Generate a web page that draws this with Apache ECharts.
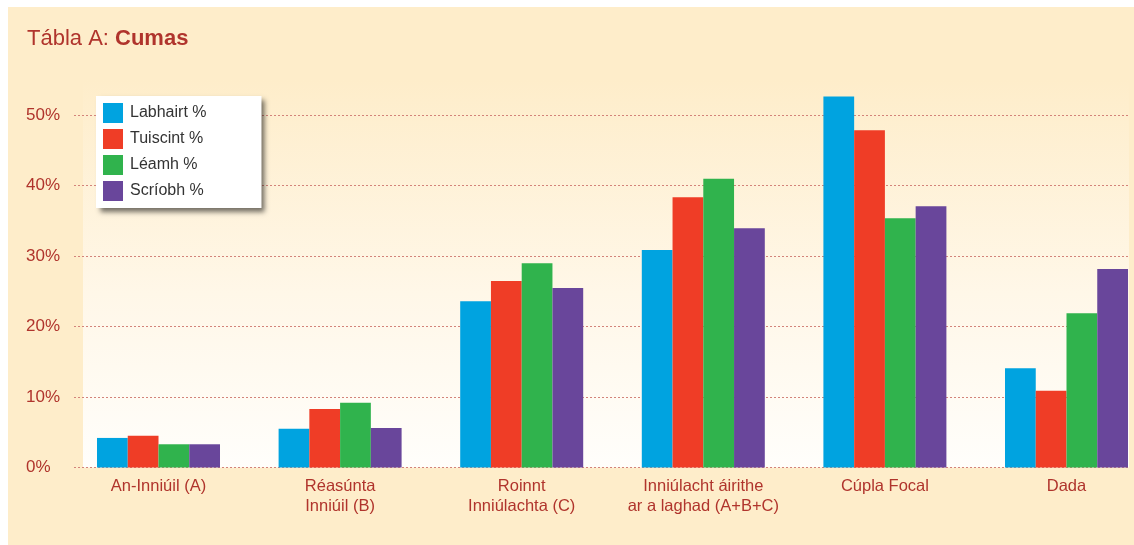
<!DOCTYPE html>
<html>
<head>
<meta charset="utf-8">
<style>
html,body{margin:0;padding:0;background:#ffffff;overflow:hidden;}
#chart{width:1160px;height:545px;}
</style>
<script src="https://cdn.jsdelivr.net/npm/echarts@6/dist/echarts.min.js"></script>
</head>
<body>
<div id="chart"></div>
<script>
const categories = ['An-Inniúil (A)', 'Réasúnta\nInniúil (B)', 'Roinnt\nInniúlachta (C)', 'Inniúlacht áirithe\nar a laghad (A+B+C)', 'Cúpla Focal', 'Dada'];
const seriesNames = ['Labhairt %', 'Tuiscint %', 'Léamh %', 'Scríobh %'];
const labhairt = [4.2, 5.5, 23.6, 30.9, 52.7, 14.1];
const tuiscint = [4.5, 8.3, 26.5, 38.4, 47.9, 10.9];
const leamh = [3.3, 9.2, 29.0, 41.0, 35.4, 21.9];
const scriobh = [3.3, 5.6, 25.5, 34.0, 37.1, 28.2];
const yMax = 50, yStep = 10;

const colors = ['#00a3e0', '#ef3d26', '#30b34d', '#69469b'];
const red = '#b0342c';
const cream = '#feedca';
const sans = "'Liberation Sans',Arial,sans-serif";
const values = [labhairt, tuiscint, leamh, scriobh];

const chart = echarts.init(document.getElementById('chart'), null, {renderer: 'canvas'});
chart.setOption({
  animation: false,
  backgroundColor: '#ffffff',
  graphic: [
    {type: 'rect', z: -20, shape: {x: 8, y: 7, width: 1152, height: 538}, style: {fill: cream}, silent: true},
    {type: 'rect', z: -19, shape: {x: 83, y: 80, width: 1046, height: 387.5},
      style: {fill: new echarts.graphic.LinearGradient(0, 0, 0, 1, [
        {offset: 0, color: cream}, {offset: 0.55, color: '#fff7e8'}, {offset: 1, color: '#fffefb'}])}, silent: true}
  ],
  title: {
    left: 22, top: 23,
    text: '{a|Tábla A: }{b|Cumas}',
    textStyle: {
      rich: {
        a: {fontFamily: sans, fontSize: 22, fontWeight: 'normal', color: red},
        b: {fontFamily: sans, fontSize: 22, fontWeight: 'bold', color: red}
      }
    }
  },
  legend: {
    left: 96, top: 96, orient: 'vertical',
    data: seriesNames,
    itemWidth: 20, itemHeight: 20, itemGap: 6,
    padding: [7, 55, 7, 7],
    backgroundColor: '#ffffff',
    shadowColor: 'rgba(0,0,0,0.55)', shadowBlur: 5, shadowOffsetX: 4, shadowOffsetY: 4,
    icon: 'rect',
    textStyle: {fontFamily: sans, fontSize: 16, color: '#333333', padding: [0, 0, 0, 2]}
  },
  grid: [
    {left: 67.7, width: 1089.6, top: 80.3, bottom: 77.5},
    {left: 74, width: 1055, top: 115.3, bottom: 77.5}
  ],
  xAxis: [
    {type: 'category', gridIndex: 0, data: categories,
      axisLine: {show: false}, axisTick: {show: false}, splitLine: {show: false},
      axisLabel: {interval: 0, margin: 9, color: red, fontFamily: sans, fontSize: 16.5, lineHeight: 20}},
    {type: 'value', gridIndex: 1, show: false, min: 0, max: 1}
  ],
  yAxis: [
    {type: 'value', gridIndex: 0, min: 0, max: 55, show: false, splitLine: {show: false}},
    {type: 'value', gridIndex: 1, min: 0, max: yMax, interval: yStep,
      axisLine: {show: false}, axisTick: {show: false},
      splitLine: {show: true, lineStyle: {color: '#d3837a', width: 1, type: [2, 2]}},
      axisLabel: {align: 'left', margin: 48, color: red, fontFamily: sans, fontSize: 17, formatter: '{value}%'}}
  ],
  series: values.map((v, i) => ({
    name: seriesNames[i], type: 'bar', xAxisIndex: 0, yAxisIndex: 0,
    data: v, barWidth: 30.75, barGap: '0%', itemStyle: {color: colors[i]}, z: 5
  }))
});
</script>
</body>
</html>
